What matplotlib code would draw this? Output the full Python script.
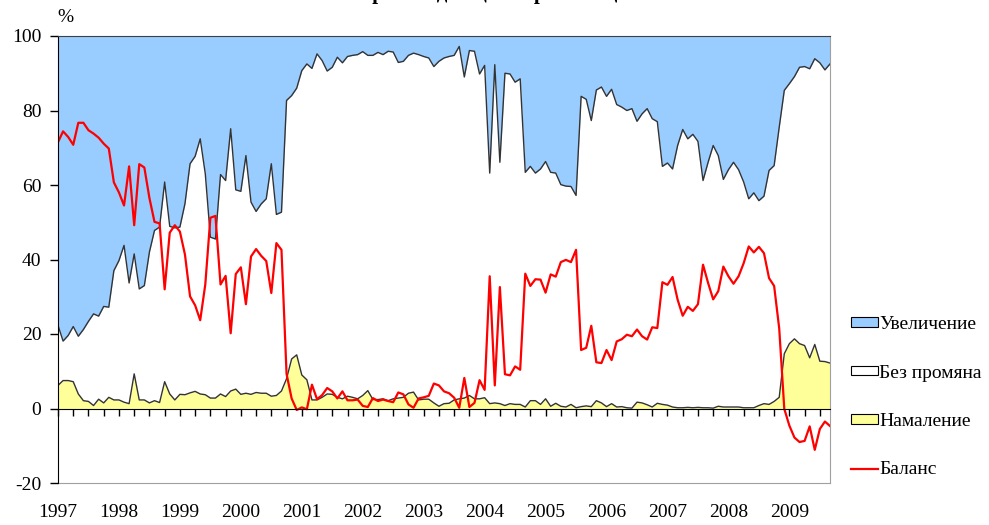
import numpy as np
import matplotlib
matplotlib.use("Agg")
import matplotlib.pyplot as plt
from matplotlib.patches import Patch
from matplotlib.lines import Line2D

plt.rcParams['font.family'] = ['Liberation Serif', 'DejaVu Serif']

# ---- data (monthly, Jan 1997 - Sep 2009), % of respondents ----
start_year = 1997
increase = [77.7, 81.9, 80.4, 78.0, 80.6, 78.8, 76.6, 74.6, 75.2, 72.6, 72.8, 63.0,
            60.3, 56.2, 66.3, 58.5, 67.9, 67.0, 58.0, 52.2, 51.3, 39.2, 51.1, 51.5,
            51.3, 45.0, 34.3, 32.3, 27.6, 37.0, 54.0, 54.5, 37.2, 38.8, 24.9, 41.3,
            41.7, 32.1, 44.6, 47.1, 45.1, 43.7, 34.3, 47.9, 47.3, 17.3, 16.0, 14.0,
            9.3, 7.5, 8.7, 4.8, 6.6, 9.4, 8.4, 5.7, 7.2, 5.5, 5.2, 5.0,
            4.2, 5.2, 5.2, 4.4, 5.0, 4.1, 4.3, 7.1, 6.8, 5.2, 4.6, 5.0,
            5.5, 5.9, 8.2, 6.8, 5.9, 5.5, 5.2, 2.8, 11.0, 3.9, 4.1, 10.2,
            7.9, 36.8, 7.7, 33.9, 10.0, 10.2, 12.4, 11.5, 36.6, 35.0, 36.8, 35.7,
            33.7, 36.6, 36.8, 39.9, 40.3, 40.4, 42.8, 16.2, 17.0, 22.7, 14.5, 13.7,
            16.2, 14.3, 18.4, 19.1, 20.0, 19.5, 22.9, 20.9, 19.5, 22.2, 23.0, 35.0,
            34.1, 35.7, 29.4, 25.1, 27.6, 26.4, 28.3, 38.8, 33.9, 29.4, 32.1, 38.5,
            35.9, 33.9, 35.9, 39.2, 43.7, 42.1, 44.2, 43.0, 36.1, 34.8, 24.5, 14.6,
            12.8, 10.9, 8.4, 8.2, 8.8, 6.1, 7.2, 9.1, 7.5]
decrease = [6.2, 7.5, 7.5, 7.2, 3.9, 2.1, 1.9, 0.8, 2.5, 1.5, 3.0, 2.3,
            2.3, 1.7, 1.3, 9.3, 2.3, 2.3, 1.5, 2.1, 1.6, 7.2, 3.9, 2.3,
            3.8, 3.7, 4.2, 4.6, 3.9, 3.7, 2.8, 2.8, 3.9, 3.2, 4.7, 5.2,
            3.8, 4.1, 3.8, 4.3, 4.1, 4.1, 3.3, 3.5, 4.7, 8.0, 13.3, 14.4,
            9.0, 7.7, 2.3, 2.3, 3.0, 3.9, 3.8, 3.0, 2.6, 3.3, 3.0, 2.6,
            3.5, 4.8, 2.4, 2.4, 2.6, 2.1, 2.6, 2.8, 3.0, 4.1, 4.4, 2.3,
            2.5, 2.5, 1.5, 0.6, 1.3, 1.4, 2.3, 2.6, 2.8, 3.5, 2.6, 2.6,
            2.9, 1.3, 1.5, 1.3, 0.8, 1.3, 1.1, 1.1, 0.4, 2.1, 2.1, 1.1,
            2.6, 0.6, 1.4, 0.6, 0.4, 1.1, 0.2, 0.5, 0.7, 0.5, 2.1, 1.5,
            0.5, 1.3, 0.4, 0.5, 0.2, 0.1, 1.7, 1.5, 1.0, 0.4, 1.4, 1.1,
            0.9, 0.4, 0.2, 0.2, 0.3, 0.2, 0.3, 0.2, 0.2, 0.1, 0.6, 0.4,
            0.4, 0.4, 0.4, 0.2, 0.2, 0.2, 0.8, 1.3, 1.1, 1.9, 3.0, 14.7,
            17.4, 18.7, 17.4, 16.9, 13.6, 17.2, 12.7, 12.6, 12.2]
series_labels = ['Увеличение', 'Без промяна', 'Намаление', 'Баланс']
year_labels = [str(y) for y in range(1997, 2010)]
y_ticks = [-20, 0, 20, 40, 60, 80, 100]
title = 'През следващите три месеца'

inc = np.array(increase)
dec = np.array(decrease)
nochange = 100 - inc - dec
balance = inc - dec
x = start_year + np.arange(len(inc)) / 12.0

c_inc, c_none, c_dec, c_bal = '#99CCFF', '#FFFFFF', '#FFFF99', '#FF0000'
edge = '#333333'

fig = plt.figure(figsize=(9.89, 5.25), dpi=100)
ax = fig.add_axes([58 / 989, 42 / 525, 772 / 989, 447 / 525])

lvl1 = dec
lvl2 = dec + nochange
ax.fill_between(x, 0, lvl1, color=c_dec, lw=0)
ax.fill_between(x, lvl1, lvl2, color=c_none, lw=0)
ax.fill_between(x, lvl2, 100, color=c_inc, lw=0)
ax.plot(x, lvl1, color=edge, lw=1.0)
ax.plot(x, lvl2, color=edge, lw=1.0)
ax.plot(x, balance, color=c_bal, lw=1.6)

ax.set_xlim(x[0], x[-1])
ax.set_ylim(-20, 100)

# y axis
ax.set_yticks(y_ticks)
ax.set_yticklabels([str(v) for v in y_ticks], fontsize=14)
ax.tick_params(axis='y', direction='out', length=6, width=1, pad=6, color='black')

# x axis line at zero with quarterly ticks
ax.spines['bottom'].set_position(('data', 0))
ax.spines['bottom'].set_color('black')
ax.spines['left'].set_color('black')
ax.spines['top'].set_color('#404040')
ax.spines['right'].set_color('#a0a0a0')
quarters = np.arange(start_year, x[-1] + 1e-6, 0.25)
ax.set_xticks(quarters)
ax.set_xticklabels([''] * len(quarters))
ax.tick_params(axis='x', direction='out', length=5, width=1, color='black')

# year labels at bottom of frame
sec = ax.secondary_xaxis(0.0)
years = np.arange(1997, 2010)
sec.set_xticks(years)
sec.set_xticklabels(year_labels, fontsize=14)
sec.tick_params(axis='x', length=0, pad=15)
sec.spines['bottom'].set_color('#a0a0a0')

fig.text(65 / 989, 1 - 18 / 525, '%', ha='center', va='center', fontsize=14)
fig.text(492 / 989, 1 + 1.5 / 525, title, ha='center', va='baseline',
         fontsize=15, fontweight='bold')

handles = [Patch(facecolor=c_inc, edgecolor='black', lw=0.8),
           Patch(facecolor=c_none, edgecolor='black', lw=0.8),
           Patch(facecolor=c_dec, edgecolor='black', lw=0.8),
           Line2D([0], [0], color=c_bal, lw=1.6)]
fig.legend(handles, series_labels, loc='upper left',
           bbox_to_anchor=(851 / 989, 1 - 316 / 525), frameon=False,
           fontsize=14, handlelength=1.4, handleheight=0.35, handletextpad=0.05,
           labelspacing=1.62, borderpad=0, borderaxespad=0)

fig.savefig('out.png', dpi=100)
